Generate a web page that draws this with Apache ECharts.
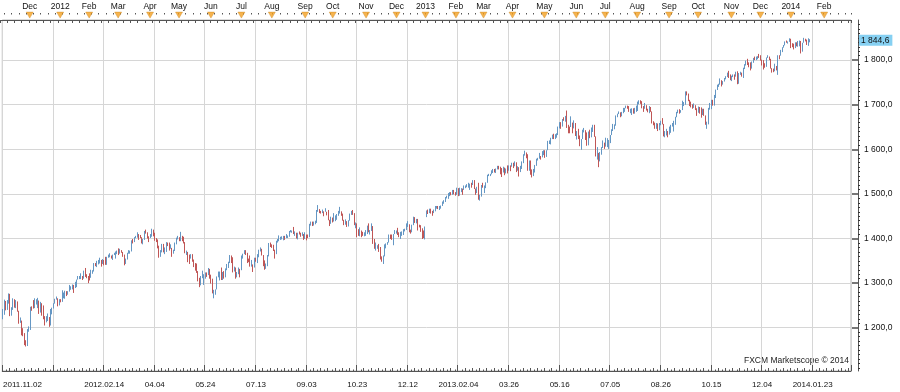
<!DOCTYPE html>
<html><head><meta charset="utf-8">
<script src="https://cdn.jsdelivr.net/npm/echarts@6/dist/echarts.min.js"></script>
<style>html,body{margin:0;padding:0;background:#fff}#c{width:900px;height:392px}</style>
</head><body><div id="c"></div>
<script>
// Daily bars [open, high, low, close], 2011-11-02 .. 2014-01-22
const ohlc = [
// 2011-11
[1219,1242,1219,1238],[1238,1263,1229,1261],[1260,1260,1239,1253],[1254,1262,1240,1261],[1262,1277,1254,1276],
[1275,1276,1226,1229],[1229,1246,1227,1240],[1240,1266,1240,1264],[1264,1264,1245,1252],[1252,1262,1244,1258],
[1258,1259,1236,1237],[1237,1238,1209,1216],[1216,1223,1211,1216],[1216,1216,1183,1193],[1193,1199,1181,1188],
[1188,1188,1161,1162],[1162,1172,1158,1159],[1159,1197,1159,1193],[1193,1203,1191,1195],[1195,1247,1195,1247],
// 2011-12
[1247,1248,1238,1245],[1245,1262,1243,1244],[1244,1266,1244,1257],[1257,1264,1252,1259],[1259,1267,1244,1261],
[1261,1261,1231,1234],[1234,1258,1234,1255],[1255,1255,1227,1237],[1237,1250,1219,1226],[1226,1226,1205,1212],
[1212,1226,1212,1216],[1216,1232,1215,1220],[1220,1224,1202,1205],[1205,1242,1205,1241],[1241,1245,1230,1244],
[1244,1255,1243,1254],[1254,1265,1254,1265],[1265,1270,1263,1265],[1265,1266,1248,1250],[1250,1264,1250,1263],
[1263,1264,1257,1258],
// 2012-01
[1258,1284,1258,1277],[1277,1279,1266,1277],[1277,1283,1265,1281],[1281,1282,1271,1278],[1278,1282,1274,1281],
[1281,1296,1281,1292],[1292,1293,1285,1293],[1293,1297,1286,1296],[1296,1296,1278,1289],[1289,1303,1289,1294],
[1294,1308,1291,1308],[1308,1316,1308,1315],[1315,1316,1309,1315],[1315,1322,1309,1316],[1316,1316,1307,1315],
[1315,1328,1310,1326],[1326,1334,1314,1318],[1318,1320,1311,1316],[1316,1316,1300,1313],[1313,1322,1306,1312],
// 2012-02
[1312,1330,1312,1324],[1324,1329,1321,1326],[1326,1345,1326,1345],[1345,1345,1338,1344],[1344,1350,1336,1347],
[1347,1352,1342,1350],[1350,1357,1344,1352],[1352,1352,1337,1343],[1343,1354,1343,1352],[1352,1352,1340,1351],
[1351,1359,1341,1343],[1343,1359,1341,1358],[1358,1364,1357,1361],[1361,1367,1358,1362],[1362,1362,1355,1358],
[1358,1364,1352,1364],[1364,1368,1363,1366],[1366,1371,1355,1368],[1368,1373,1365,1372],[1372,1378,1363,1366],
// 2012-03
[1366,1377,1366,1374],[1374,1374,1368,1370],[1370,1370,1359,1364],[1364,1364,1340,1343],[1343,1355,1343,1353],
[1353,1368,1353,1366],[1366,1374,1366,1371],[1371,1373,1366,1371],[1371,1396,1371,1396],[1396,1399,1389,1394],
[1394,1403,1392,1403],[1403,1406,1401,1404],[1404,1414,1402,1410],[1410,1410,1397,1405],[1405,1408,1401,1403],
[1403,1403,1389,1393],[1393,1399,1387,1397],[1397,1417,1397,1416],[1416,1420,1411,1412],[1412,1414,1400,1405],
[1405,1405,1392,1403],[1403,1410,1401,1408],
// 2012-04
[1408,1422,1404,1419],[1419,1420,1405,1413],[1413,1413,1395,1399],[1399,1401,1392,1398],[1398,1398,1378,1382],
[1382,1384,1357,1359],[1359,1374,1359,1369],[1369,1388,1369,1388],[1388,1388,1369,1370],[1370,1380,1365,1370],
[1370,1392,1370,1391],[1391,1391,1383,1385],[1385,1391,1373,1377],[1377,1387,1377,1379],[1379,1379,1359,1367],
[1367,1375,1366,1372],[1372,1391,1372,1391],[1391,1402,1387,1400],[1400,1406,1398,1403],[1403,1403,1394,1398],
// 2012-05
[1398,1415,1394,1406],[1406,1406,1394,1402],[1402,1404,1389,1392],[1392,1392,1367,1369],[1369,1373,1363,1370],
[1370,1370,1347,1364],[1364,1364,1343,1355],[1355,1365,1355,1358],[1358,1365,1348,1353],[1353,1353,1336,1338],
[1338,1345,1328,1331],[1331,1344,1323,1325],[1325,1327,1304,1305],[1305,1312,1291,1295],[1295,1316,1295,1316],
[1316,1328,1311,1317],[1317,1320,1296,1319],[1319,1324,1310,1321],[1321,1324,1314,1318],[1318,1334,1318,1332],
[1332,1332,1310,1313],[1313,1319,1299,1310],
// 2012-06
[1310,1310,1277,1278],[1278,1285,1266,1278],[1278,1286,1274,1286],[1286,1315,1286,1315],[1315,1326,1313,1315],
[1315,1326,1306,1326],[1326,1335,1307,1309],[1309,1325,1307,1324],[1324,1327,1310,1315],[1315,1333,1313,1329],
[1329,1343,1329,1343],[1343,1348,1334,1345],[1345,1363,1345,1358],[1358,1362,1345,1356],[1356,1358,1324,1326],
[1326,1337,1326,1335],[1335,1335,1310,1314],[1314,1325,1313,1320],[1320,1335,1320,1332],[1332,1332,1313,1329],
[1329,1362,1329,1362],
// 2012-07
[1362,1366,1355,1366],[1366,1374,1365,1374],[1374,1374,1363,1368],[1368,1368,1345,1355],[1355,1355,1347,1352],
[1352,1362,1337,1342],[1342,1352,1337,1342],[1342,1342,1325,1335],[1335,1357,1335,1357],[1357,1357,1348,1354],
[1354,1365,1345,1364],[1364,1375,1358,1373],[1373,1380,1371,1377],[1377,1377,1362,1363],[1363,1363,1338,1351],
[1351,1351,1330,1338],[1338,1344,1332,1338],[1338,1363,1338,1360],[1360,1390,1360,1386],[1386,1391,1381,1385],
[1385,1387,1379,1379],
// 2012-08
[1379,1386,1372,1375],[1375,1375,1355,1365],[1365,1395,1365,1391],[1391,1399,1391,1394],[1394,1407,1394,1401],
[1401,1404,1397,1402],[1402,1405,1398,1403],[1403,1406,1396,1406],[1406,1406,1397,1404],[1404,1410,1401,1404],
[1404,1407,1401,1405],[1405,1417,1404,1415],[1415,1419,1414,1418],[1418,1418,1413,1418],[1418,1426,1410,1413],
[1413,1416,1406,1413],[1413,1413,1400,1402],[1402,1413,1398,1411],[1411,1416,1409,1410],[1410,1413,1404,1409],
[1409,1414,1406,1410],[1410,1410,1397,1399],[1399,1414,1399,1407],
// 2012-09
[1407,1409,1396,1405],[1405,1409,1401,1403],[1403,1433,1403,1432],[1432,1438,1429,1438],[1438,1438,1428,1429],
[1429,1438,1429,1434],[1434,1440,1432,1437],[1437,1464,1435,1460],[1460,1475,1460,1466],[1466,1466,1457,1461],
[1461,1462,1456,1459],[1459,1465,1457,1461],[1461,1461,1450,1460],[1460,1468,1460,1460],[1460,1460,1452,1457],
[1457,1464,1441,1442],[1442,1442,1428,1433],[1433,1449,1433,1447],[1447,1447,1436,1441],
// 2012-10
[1441,1457,1438,1445],[1445,1452,1439,1446],[1446,1455,1442,1451],[1451,1462,1451,1461],[1461,1471,1456,1461],
[1461,1461,1451,1456],[1456,1456,1440,1442],[1442,1442,1430,1433],[1433,1443,1431,1433],[1433,1439,1426,1429],
[1429,1441,1427,1440],[1440,1456,1440,1455],[1455,1462,1453,1461],[1461,1464,1453,1457],[1457,1457,1430,1433],
[1433,1436,1423,1434],[1434,1434,1403,1413],[1413,1421,1406,1409],[1409,1425,1405,1413],[1413,1418,1403,1412],
[1412,1415,1406,1410],[1410,1414,1405,1411],[1411,1419,1406,1412],
// 2012-11
[1412,1429,1410,1428],[1428,1434,1414,1414],[1414,1419,1409,1417],[1417,1434,1417,1428],[1428,1428,1388,1395],
[1395,1399,1377,1378],[1378,1391,1373,1380],[1380,1385,1377,1380],[1380,1388,1370,1375],[1375,1381,1353,1356],
[1356,1360,1348,1353],[1353,1362,1343,1360],[1360,1387,1360,1387],[1387,1389,1378,1388],[1388,1392,1386,1391],
[1391,1409,1391,1409],[1409,1409,1399,1406],[1406,1409,1397,1399],[1399,1410,1385,1410],[1410,1419,1410,1416],
[1416,1418,1411,1416],
// 2012-12
[1416,1424,1408,1410],[1410,1414,1403,1407],[1407,1415,1399,1409],[1409,1416,1406,1414],[1414,1421,1408,1418],
[1418,1422,1416,1419],[1419,1434,1419,1428],[1428,1439,1426,1429],[1429,1432,1414,1420],[1420,1420,1411,1414],
[1414,1431,1414,1430],[1430,1449,1430,1447],[1447,1448,1435,1436],[1436,1444,1434,1444],[1444,1444,1418,1430],
[1430,1431,1425,1427],[1427,1430,1415,1420],[1420,1423,1399,1418],[1418,1418,1401,1402],[1402,1427,1398,1426],
// 2013-01
[1448,1463,1448,1462],[1462,1465,1455,1459],[1459,1467,1457,1467],[1467,1467,1456,1462],[1462,1462,1451,1457],
[1457,1465,1457,1461],[1461,1473,1461,1472],[1472,1473,1467,1472],[1472,1473,1466,1471],[1471,1473,1464,1472],
[1472,1474,1467,1473],[1473,1483,1473,1481],[1481,1486,1478,1486],[1486,1493,1482,1493],[1493,1496,1490,1495],
[1495,1502,1489,1495],[1495,1504,1495,1503],[1503,1504,1497,1500],[1500,1509,1498,1508],[1508,1509,1499,1502],
[1502,1504,1496,1498],
// 2013-02
[1498,1514,1498,1513],[1513,1513,1495,1496],[1496,1514,1496,1511],[1511,1513,1504,1512],[1512,1512,1498,1509],
[1509,1519,1509,1518],[1518,1519,1513,1518],[1518,1522,1515,1519],[1519,1525,1514,1520],[1520,1523,1509,1521],
[1521,1525,1514,1520],[1520,1531,1520,1531],[1531,1531,1511,1512],[1512,1512,1498,1502],[1502,1516,1502,1516],
[1516,1525,1487,1488],[1488,1498,1485,1497],[1497,1520,1494,1516],[1516,1525,1514,1515],
// 2013-03
[1515,1519,1502,1518],[1518,1526,1513,1525],[1525,1543,1525,1540],[1540,1545,1540,1542],[1542,1545,1540,1544],
[1544,1553,1544,1551],[1551,1556,1547,1556],[1556,1556,1548,1553],[1553,1557,1547,1555],[1555,1563,1555,1563],
[1563,1563,1555,1561],[1561,1561,1544,1552],[1552,1558,1538,1548],[1548,1561,1548,1559],[1559,1559,1542,1546],
[1546,1557,1546,1557],[1557,1564,1546,1552],[1552,1564,1552,1564],[1564,1564,1551,1563],[1563,1570,1561,1569],
// 2013-04
[1569,1570,1558,1562],[1562,1573,1562,1570],[1570,1571,1549,1554],[1554,1562,1552,1560],[1560,1560,1539,1553],
[1553,1563,1549,1563],[1563,1573,1556,1569],[1569,1589,1569,1588],[1588,1597,1586,1593],[1593,1593,1580,1589],
[1589,1589,1552,1552],[1552,1575,1552,1575],[1575,1575,1543,1552],[1552,1555,1537,1542],[1542,1556,1540,1555],
[1555,1565,1548,1563],[1563,1579,1563,1579],[1579,1581,1575,1579],[1579,1592,1579,1585],[1585,1585,1577,1582],
[1582,1596,1582,1594],[1594,1598,1587,1598],
// 2013-05
[1598,1598,1581,1583],[1583,1598,1583,1598],[1598,1619,1598,1614],[1614,1620,1612,1618],[1618,1626,1611,1626],
[1626,1633,1623,1633],[1633,1635,1623,1627],[1627,1634,1623,1634],[1634,1636,1626,1634],[1634,1651,1632,1650],
[1650,1661,1647,1659],[1659,1661,1646,1651],[1651,1668,1651,1668],[1668,1672,1664,1666],[1666,1675,1662,1669],
[1669,1687,1648,1655],[1655,1655,1636,1651],[1651,1651,1636,1650],[1650,1674,1650,1660],[1660,1660,1636,1648],
[1648,1665,1647,1654],[1654,1659,1630,1631],
// 2013-06
[1631,1641,1622,1640],[1640,1646,1623,1631],[1631,1631,1607,1609],[1609,1623,1599,1623],[1623,1644,1623,1643],
[1643,1648,1638,1643],[1643,1643,1621,1626],[1626,1638,1608,1612],[1612,1640,1609,1636],[1636,1644,1625,1627],
[1627,1649,1627,1639],[1639,1655,1639,1652],[1652,1655,1628,1629],[1629,1629,1584,1588],[1588,1605,1577,1592],
[1592,1592,1560,1573],[1573,1594,1573,1588],[1588,1605,1588,1603],[1603,1620,1603,1613],[1613,1615,1601,1606],
// 2013-07
[1606,1626,1606,1614],[1614,1625,1605,1614],[1614,1621,1601,1615],[1615,1632,1614,1632],[1632,1645,1632,1641],
[1641,1657,1641,1652],[1652,1656,1645,1653],[1653,1676,1653,1675],[1675,1680,1672,1680],[1680,1685,1679,1683],
[1683,1683,1672,1676],[1676,1684,1674,1681],[1681,1693,1681,1689],[1689,1693,1684,1692],[1692,1698,1692,1696],
[1696,1698,1691,1692],[1692,1697,1684,1686],[1686,1691,1681,1690],[1690,1692,1677,1692],[1692,1692,1680,1685],
[1685,1693,1680,1686],[1686,1698,1684,1686],
// 2013-08
[1686,1707,1686,1707],[1707,1710,1701,1710],[1710,1710,1702,1707],[1707,1708,1692,1697],[1697,1697,1684,1691],
[1691,1704,1691,1698],[1698,1699,1687,1691],[1691,1691,1683,1690],[1690,1697,1681,1694],[1694,1695,1684,1685],
[1685,1685,1658,1661],[1661,1663,1654,1656],[1656,1660,1646,1646],[1646,1659,1646,1652],[1652,1658,1641,1643],
[1643,1659,1643,1657],[1657,1664,1654,1664],[1664,1670,1656,1657],[1657,1657,1629,1631],[1631,1641,1627,1635],
[1635,1646,1631,1638],[1638,1641,1627,1633],
// 2013-09
[1633,1651,1633,1640],[1640,1655,1637,1653],[1653,1659,1651,1655],[1655,1664,1640,1655],[1655,1673,1655,1672],
[1672,1684,1672,1684],[1684,1689,1681,1689],[1689,1690,1680,1683],[1683,1688,1682,1688],[1688,1709,1688,1698],
[1698,1706,1697,1705],[1705,1730,1700,1726],[1726,1730,1721,1722],[1722,1725,1708,1710],[1710,1711,1697,1702],
[1702,1707,1694,1697],[1697,1701,1691,1693],[1693,1703,1693,1699],[1699,1699,1688,1692],[1692,1692,1675,1682],
// 2013-10
[1682,1696,1682,1695],[1695,1695,1680,1694],[1694,1694,1671,1679],[1679,1691,1677,1691],[1691,1691,1675,1676],
[1676,1676,1655,1655],[1655,1662,1646,1656],[1656,1693,1656,1693],[1693,1704,1689,1703],[1703,1711,1690,1710],
[1710,1711,1698,1698],[1698,1722,1698,1722],[1722,1734,1715,1733],[1733,1745,1733,1745],[1745,1747,1740,1745],
[1745,1759,1745,1755],[1755,1755,1741,1746],[1746,1753,1745,1752],[1752,1760,1752,1760],[1760,1764,1757,1762],
[1762,1772,1762,1772],[1772,1776,1760,1763],[1763,1768,1755,1757],
// 2013-11
[1757,1765,1753,1762],[1762,1768,1762,1768],[1768,1768,1756,1763],[1763,1774,1763,1771],[1771,1775,1746,1747],
[1747,1771,1747,1771],[1771,1774,1767,1772],[1772,1772,1763,1768],[1768,1783,1760,1782],[1782,1791,1780,1791],
[1791,1799,1788,1798],[1798,1803,1789,1792],[1792,1795,1784,1788],[1788,1795,1777,1781],[1781,1797,1781,1796],
[1796,1805,1794,1805],[1805,1808,1800,1802],[1802,1808,1800,1803],[1803,1809,1802,1807],[1807,1814,1805,1806],
// 2013-12
[1806,1811,1799,1801],[1801,1801,1788,1795],[1795,1800,1779,1793],[1793,1793,1783,1785],[1785,1806,1785,1805],
[1805,1811,1805,1808],[1808,1808,1800,1803],[1803,1803,1781,1782],[1782,1782,1772,1776],[1776,1781,1773,1775],
[1775,1792,1775,1787],[1787,1787,1777,1781],[1781,1811,1767,1811],[1811,1811,1802,1810],[1810,1823,1810,1818],
[1818,1829,1818,1828],[1828,1834,1828,1833],[1833,1842,1833,1842],[1842,1844,1839,1841],[1841,1842,1837,1841],
[1841,1849,1841,1848],
// 2014-01
[1848,1848,1827,1832],[1832,1838,1829,1831],[1831,1837,1824,1827],[1827,1840,1827,1838],[1838,1840,1831,1837],
[1837,1843,1830,1838],[1838,1844,1831,1842],[1842,1843,1815,1819],[1819,1839,1819,1839],[1839,1850,1839,1848],
[1848,1848,1842,1846],[1846,1846,1834,1839],[1839,1849,1832,1844],[1844,1847,1840,1844.6]
];

// bottom date labels, one every 35 bars ('' = no label shown)
const dateLabels = ['2011.11.02','','2012.02.14','04.04','05.24','07.13','09.03','10.23','12.12',
  '2013.02.04','03.26','05.16','07.05','08.26','10.15','12.04','2014.01.23'];
const labelStep = 35;
// top month labels and the bar index of each month's first bar
const monthNames = ['Dec','2012','Feb','Mar','Apr','May','Jun','Jul','Aug','Sep','Oct','Nov','Dec',
  '2013','Feb','Mar','Apr','May','Jun','Jul','Aug','Sep','Oct','Nov','Dec','2014','Feb'];
const monthStarts = [20,41,61,81,103,123,145,166,187,210,229,252,273,293,314,333,353,375,397,417,439,461,481,504,524,545,568];
const yMin = 1103, yMax = 1890;
const slotCount = 587;  // bar slots across the plot (incl. empty space on the right)
const lastPrice = ohlc[ohlc.length - 1][3];

const FONT = 'Liberation Sans';
const cats = Array.from({length: slotCount}, (_, i) => String(i));
const candleData = ohlc.map(r => [r[0], r[3], r[2], r[1]]);
const monthMap = new Map(monthStarts.map((m, i) => [m, monthNames[i]]));
function fmtPrice(v) {
  const s = Number(v).toFixed(1);
  const [a, b] = s.split('.');
  return a.replace(/\B(?=(\d{3})+(?!\d))/g, ' ') + ',' + b;
}
const dateAt = i => (i % labelStep === 0 && dateLabels[i / labelStep]) ? dateLabels[i / labelStep] : '';
const axisCol = '#555';

const chart = echarts.init(document.getElementById('c'), null, {renderer: 'canvas'});
chart.setOption({
  animation: false,
  backgroundColor: '#fff',
  grid: [
    {left: 0, right: 49, top: 20, bottom: 21, show: true, borderColor: '#b8b8b8', borderWidth: 1, backgroundColor: 'transparent'},
    {left: 0, right: 49, top: 13, height: 7, show: false}
  ],
  xAxis: [
    { gridIndex: 0, type: 'category', data: cats, position: 'bottom', boundaryGap: true,
      axisLine: {show: true, lineStyle: {color: axisCol}},
      axisTick: {show: true, inside: true, length: 6, interval: (i) => i % labelStep === 0, lineStyle: {color: axisCol}},
      axisLabel: {show: true, interval: (i) => dateAt(i) !== '', formatter: (v) => dateAt(Number(v)),
        fontSize: 8, fontFamily: FONT, color: '#111', margin: 10, alignMinLabel: 'left'},
      splitLine: {show: true, interval: (i) => i % labelStep === 0, lineStyle: {color: '#d6d6d6'}}
    },
    { gridIndex: 0, type: 'category', data: cats, position: 'bottom', boundaryGap: true,
      axisLine: {show: false}, axisLabel: {show: false}, splitLine: {show: false},
      axisTick: {show: true, inside: true, length: 3, interval: (i) => i % 5 === 0, lineStyle: {color: axisCol}}
    },
    { gridIndex: 0, type: 'category', data: cats, position: 'bottom', boundaryGap: true,
      axisLine: {show: false}, axisLabel: {show: false}, splitLine: {show: false},
      axisTick: {show: true, inside: true, length: 1.5, interval: (i) => i % 5 === 3, lineStyle: {color: axisCol}}
    },
    { gridIndex: 1, type: 'category', data: cats, position: 'top', boundaryGap: true,
      axisLine: {show: true, lineStyle: {color: axisCol}},
      axisTick: {show: true, inside: true, length: 3, interval: (i) => i % 5 === 0, lineStyle: {color: axisCol}},
      axisLabel: {show: true, interval: (i) => monthMap.has(i), formatter: (v) => monthMap.get(Number(v)) || '',
        fontSize: 8.5, fontFamily: FONT, color: '#111', margin: 2},
      splitLine: {show: false}
    },
    { gridIndex: 1, type: 'category', data: cats, position: 'top', boundaryGap: true,
      axisLine: {show: false}, axisLabel: {show: false}, splitLine: {show: false},
      axisTick: {show: true, inside: true, length: 1.5, interval: (i) => i % 5 === 3, lineStyle: {color: axisCol}}
    }
  ],
  yAxis: [
    { gridIndex: 0, type: 'value', position: 'right', offset: 7, min: yMin, max: yMax, splitNumber: 8, scale: true,
      axisLine: {show: true, lineStyle: {color: axisCol}},
      axisTick: {show: true, inside: true, length: 6, lineStyle: {color: '#777', width: 2}},
      axisLabel: {show: true, showMinLabel: false, showMaxLabel: false, formatter: fmtPrice,
        fontSize: 8.5, fontFamily: FONT, color: '#111', margin: 6},
      splitLine: {show: true, lineStyle: {color: '#d6d6d6'}}
    },
    { gridIndex: 1, type: 'value', min: 0, max: 1, show: false },
    { gridIndex: 0, type: 'value', position: 'right', offset: 7, min: yMin, max: yMax, splitNumber: 8, scale: true,
      axisLine: {show: false}, axisTick: {show: false}, axisLabel: {show: false}, splitLine: {show: false},
      minorTick: {show: true, splitNumber: 10, length: 2, lineStyle: {color: '#333'}}
    },
    { gridIndex: 0, type: 'value', position: 'right', offset: 7, min: yMin, max: yMax,
      axisLine: {show: false}, axisTick: {show: false}, splitLine: {show: false},
      axisLabel: {show: true, customValues: [lastPrice], formatter: fmtPrice, margin: 1,
        fontSize: 8.5, fontFamily: FONT, color: '#111', backgroundColor: '#86d0f2', padding: [1, 3, 1, 2]}
    }
  ],
  series: [
    { type: 'candlestick', xAxisIndex: 0, yAxisIndex: 0, data: candleData, barWidth: 1,
      itemStyle: {color: '#77a6d0', color0: '#cc6a6a', borderColor: '#6597c4', borderColor0: '#c05656', borderWidth: 1}
    },
    { type: 'scatter', xAxisIndex: 3, yAxisIndex: 1, data: monthStarts.map(i => [i, 0.7]),
      symbol: 'triangle', symbolRotate: 180, symbolSize: [7, 6], silent: true,
      itemStyle: {color: '#f4a020', borderColor: '#c98420', borderWidth: 0.5}
    }
  ],
  graphic: [
    { type: 'text', right: 51, top: 356, silent: true,
      style: {text: 'FXCM Marketscope \u00a9 2014', font: '8.5px "Liberation Sans"', fill: '#222'} }
  ]
});
</script>
</body></html>
